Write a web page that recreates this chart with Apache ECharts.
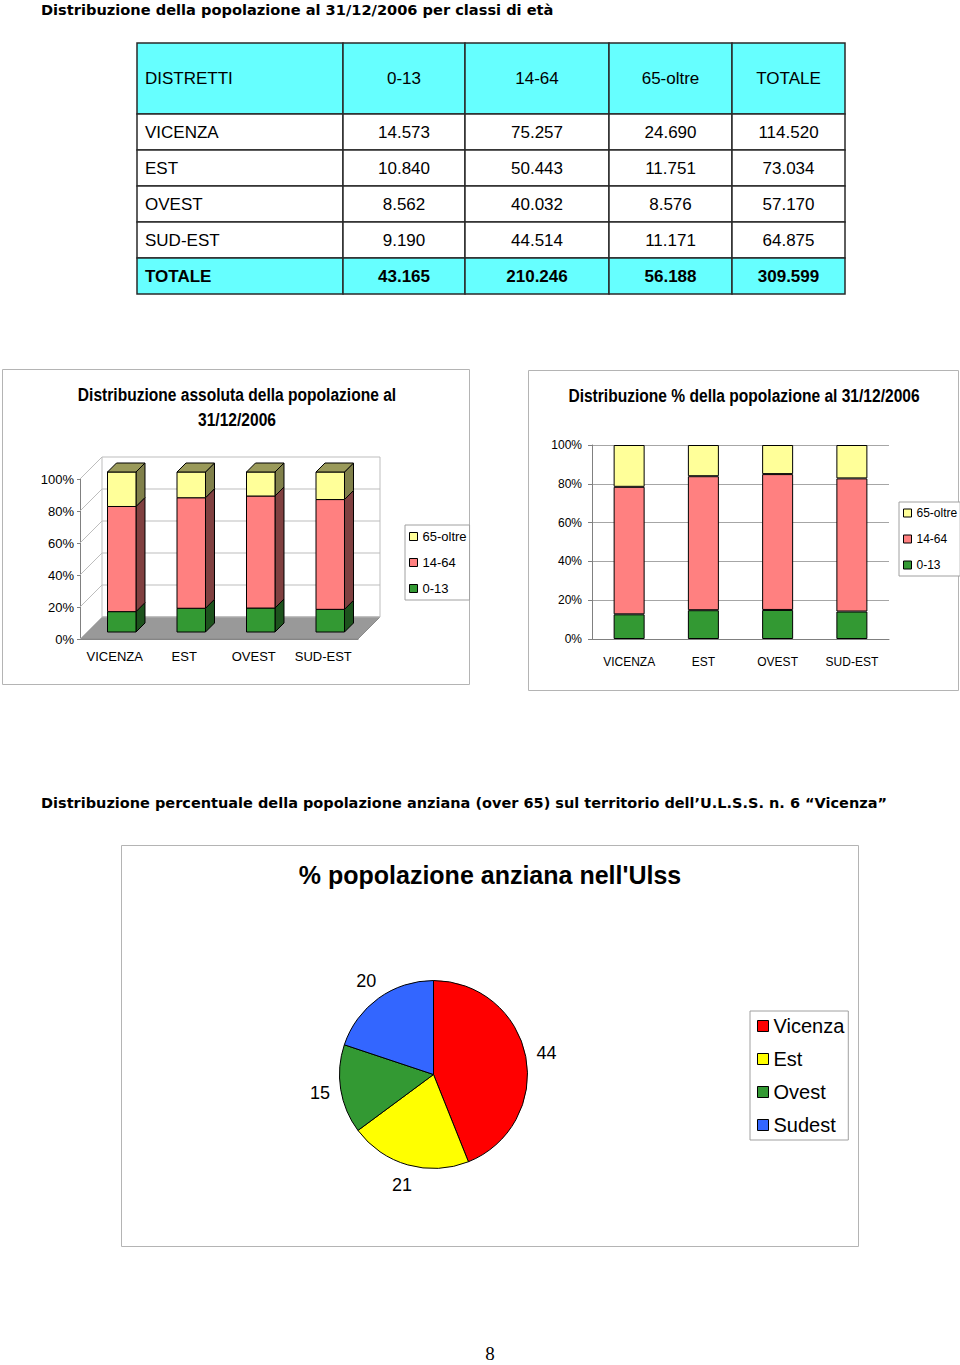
<!DOCTYPE html>
<html>
<head>
<meta charset="utf-8">
<script src="https://cdn.jsdelivr.net/npm/echarts@6/dist/echarts.min.js"></script>
<style>
html,body{margin:0;padding:0;background:#fff;}
#c{width:960px;height:1365px;}
</style>
</head>
<body>
<div id="c"></div>
<script>
// ---------------- DATA ----------------
const districts = ['VICENZA', 'EST', 'OVEST', 'SUD-EST'];
const tableHeader = ['DISTRETTI', '0-13', '14-64', '65-oltre', 'TOTALE'];
const totalLabel = 'TOTALE';
const ageClasses = ['0-13', '14-64', '65-oltre'];
const pop0to13 = [14573, 10840, 8562, 9190];
const pop14to64 = [75257, 50443, 40032, 44514];
const pop65plus = [24690, 11751, 8576, 11171];
const districtTotals = [114520, 73034, 57170, 64875];
const classTotals = [43165, 210246, 56188, 309599];
const percentTicks = [0, 20, 40, 60, 80, 100];
const pieNames = ['Vicenza', 'Est', 'Ovest', 'Sudest'];
const pieValues = pop65plus;

// ---------------- STYLE ----------------
const SANS = '"Liberation Sans",Arial,Helvetica,sans-serif';
const WIDE = '"DejaVu Sans",Verdana,sans-serif';
const classColors = ['#339933', '#FF8080', '#FFFF99'];
const classSide = ['#1d531d', '#804040', '#80804a'];
const classTop = ['#267326', '#bf6060', '#9a9a5a'];
const pieColors = ['#FF0000', '#FFFF00', '#339933', '#3366FF'];

const fmt = n => String(n).replace(/\B(?=(\d{3})+(?!\d))/g, '.');

const byClass = [pop0to13, pop14to64, pop65plus];
const pctByClass = byClass.map(arr => arr.map((v, i) => v / districtTotals[i] * 100));

// ---------------- TABLE (graphic) ----------------
const colX = [137, 343, 465, 609, 732, 845];
const rowY = [43, 114, 150, 186, 222, 258, 294];
const graphic = [];
function cellText(txt, c, r, bold) {
  const x = c === 0 ? colX[0] + 8 : (colX[c] + colX[c + 1]) / 2;
  const y = (rowY[r] + rowY[r + 1]) / 2;
  graphic.push({
    type: 'text', x: x, y: y, z: 10,
    style: {
      text: txt, fill: '#000',
      font: (bold ? 'bold ' : '') + '17px ' + SANS,
      align: c === 0 ? 'left' : 'center', textAlign: c === 0 ? 'left' : 'center',
      verticalAlign: 'middle', textVerticalAlign: 'middle'
    }
  });
}
const tableRows = [tableHeader];
districts.forEach((d, i) => tableRows.push([d, fmt(pop0to13[i]), fmt(pop14to64[i]), fmt(pop65plus[i]), fmt(districtTotals[i])]));
tableRows.push([totalLabel].concat(classTotals.map(fmt)));
tableRows.forEach((row, r) => {
  const shaded = (r === 0 || r === tableRows.length - 1);
  row.forEach((txt, c) => {
    graphic.push({
      type: 'rect', z: 5,
      shape: { x: colX[c], y: rowY[r], width: colX[c + 1] - colX[c], height: rowY[r + 1] - rowY[r] },
      style: { fill: shaded ? '#66FFFF' : '#FFFFFF', stroke: '#2a2a2a', lineWidth: 1.5 }
    });
    cellText(txt, c, r, r === tableRows.length - 1);
  });
});

// ---------------- TEXTS & FRAMES ----------------
function addText(txt, x, y, font, align, sx) {
  graphic.push({
    type: 'text', x: x, y: y, z: 10, scaleX: sx || 1,
    style: { text: txt, fill: '#000', font: font,
      align: align || 'center', textAlign: align || 'center',
      verticalAlign: 'middle', textVerticalAlign: 'middle' }
  });
}
function addFrame(x, y, w, h) {
  graphic.push({ type: 'rect', z: 0, silent: true,
    shape: { x: x, y: y, width: w, height: h },
    style: { fill: 'none', stroke: '#b4b4b4', lineWidth: 1 } });
}
addText('Distribuzione della popolazione al 31/12/2006 per classi di età', 41, 9, 'bold 14.6px ' + WIDE, 'left');
addFrame(2.5, 369.5, 467, 315);
addFrame(528.5, 370.5, 430, 320);
addFrame(121.5, 845.5, 737, 401);
addText('Distribuzione assoluta della popolazione al', 237, 394, 'bold 19px ' + SANS, 'center', 0.82);
addText('31/12/2006', 237, 419, 'bold 19px ' + SANS, 'center', 0.82);
addText('Distribuzione % della popolazione al 31/12/2006', 744, 395, 'bold 19px ' + SANS, 'center', 0.82);
addText('Distribuzione percentuale della popolazione anziana (over 65) sul territorio dell\u2019U.L.S.S. n. 6 \u201cVicenza\u201d', 41, 803, 'bold 14.5px ' + WIDE, 'left');
addText("% popolazione anziana nell'Ulss", 490, 875, 'bold 25px ' + SANS);
addText('8', 490, 1353, '19px "Liberation Serif","Times New Roman",serif');

// ---------------- 3D RENDERERS ----------------
const DEPTH = 22;
function renderWalls(params, api) {
  const cs = params.coordSys;
  const x0 = cs.x, x1 = cs.x + cs.width, yB = cs.y + cs.height, yT = cs.y;
  const ch = [];
  ch.push({ type: 'polygon', shape: { points: [[x0, yB], [x1, yB], [x1 + DEPTH, yB - DEPTH], [x0 + DEPTH, yB - DEPTH]] },
    style: { fill: '#999999', stroke: '#8a8a8a', lineWidth: 1 } });
  percentTicks.forEach(v => {
    const y = api.coord([0, v])[1];
    ch.push({ type: 'line', shape: { x1: x0 + DEPTH, y1: y - DEPTH, x2: x1 + DEPTH, y2: y - DEPTH }, style: { stroke: '#bdbdbd', lineWidth: 1 } });
    ch.push({ type: 'line', shape: { x1: x0, y1: y, x2: x0 + DEPTH, y2: y - DEPTH }, style: { stroke: '#bdbdbd', lineWidth: 1 } });
  });
  ch.push({ type: 'line', shape: { x1: x0 + DEPTH, y1: yT - DEPTH, x2: x0 + DEPTH, y2: yB - DEPTH }, style: { stroke: '#bdbdbd', lineWidth: 1 } });
  ch.push({ type: 'line', shape: { x1: x1 + DEPTH, y1: yT - DEPTH, x2: x1 + DEPTH, y2: yB - DEPTH }, style: { stroke: '#bdbdbd', lineWidth: 1 } });
  return { type: 'group', children: ch };
}
function make3DBar(k) {
  return function (params, api) {
    const cat = api.value(0), lo = api.value(1), hi = api.value(2);
    const pLo = api.coord([cat, lo]), pHi = api.coord([cat, hi]);
    const bw = api.size([1, 0])[0] * 0.41;
    const ox = 7, oy = -7, d = 9;
    const xl = pLo[0] - bw / 2 + ox, xr = xl + bw;
    const yb = pLo[1] + oy, yt = pHi[1] + oy;
    const st = { stroke: '#000', lineWidth: 1, lineJoin: 'round' };
    const ch = [
      { type: 'polygon', shape: { points: [[xr, yb], [xr + d, yb - d], [xr + d, yt - d], [xr, yt]] },
        style: Object.assign({ fill: classSide[k] }, st) },
      { type: 'rect', shape: { x: xl, y: yt, width: bw, height: yb - yt },
        style: Object.assign({ fill: classColors[k] }, st) }
    ];
    if (k === ageClasses.length - 1) {
      ch.push({ type: 'polygon', shape: { points: [[xl, yt], [xl + d, yt - d], [xr + d, yt - d], [xr, yt]] },
        style: Object.assign({ fill: classTop[k] }, st) });
    }
    return { type: 'group', children: ch };
  };
}

// ---------------- SERIES ----------------
const series = [];
series.push({ type: 'custom', name: 'walls', xAxisIndex: 0, yAxisIndex: 0, silent: true, z: 1,
  renderItem: renderWalls, data: [[0, 0]], tooltip: { show: false } });
ageClasses.forEach((name, k) => {
  const data = districts.map((d, i) => {
    let lo = 0;
    for (let j = 0; j < k; j++) lo += pctByClass[j][i];
    return [i, lo, lo + pctByClass[k][i]];
  });
  series.push({ type: 'custom', name: name, xAxisIndex: 0, yAxisIndex: 0, z: 3,
    itemStyle: { color: classColors[k] }, encode: { x: 0, y: [1, 2] },
    renderItem: make3DBar(k), data: data });
});
ageClasses.forEach((name, k) => {
  series.push({ type: 'bar', name: name, xAxisIndex: 1, yAxisIndex: 1, stack: 'pct', barWidth: 31,
    itemStyle: { color: classColors[k], borderColor: '#000', borderWidth: 1 },
    emphasis: { disabled: true }, data: pctByClass[k] });
});
series.push({ type: 'pie', name: 'over65', center: [433.5, 1074.5], radius: 94, startAngle: 90, clockwise: true,
  percentPrecision: 0, label: { show: false }, labelLine: { show: false }, emphasis: { disabled: true },
  itemStyle: { borderColor: '#000', borderWidth: 1 },
  data: pieNames.map((n, i) => ({ name: n, value: pieValues[i], itemStyle: { color: pieColors[i] } })) });
series.push({ type: 'pie', name: 'over65labels', center: [433.5, 1074.5], radius: [100, 124], startAngle: 90, clockwise: true,
  percentPrecision: 0, silent: true, emphasis: { disabled: true }, legendHoverLink: false,
  itemStyle: { color: 'rgba(0,0,0,0)', borderWidth: 0 },
  label: { show: true, position: 'inside', formatter: '{d}', color: '#000', fontSize: 18, fontFamily: SANS },
  labelLine: { show: false },
  data: pieNames.map((n, i) => ({ name: n, value: pieValues[i] })) });

const legendCommon = { orient: 'vertical', selectedMode: false, icon: 'rect',
  backgroundColor: '#fff', borderColor: '#a0a0a0', borderWidth: 1,
  itemStyle: { borderColor: '#000', borderWidth: 1 } };

const option = {
  animation: false,
  backgroundColor: '#fff',
  textStyle: { fontFamily: SANS },
  graphic: graphic,
  grid: [
    { left: 80, top: 479, width: 278, height: 160 },
    { left: 592, top: 445, width: 297, height: 194 }
  ],
  xAxis: [
    { type: 'category', gridIndex: 0, data: districts,
      axisLine: { lineStyle: { color: '#808080' } }, axisTick: { length: 4, lineStyle: { color: '#808080' } },
      axisLabel: { interval: 0, fontSize: 13, color: '#000', margin: 11, fontFamily: SANS } },
    { type: 'category', gridIndex: 1, data: districts,
      axisLine: { lineStyle: { color: '#808080' } }, axisTick: { length: 4, lineStyle: { color: '#808080' } },
      axisLabel: { interval: 0, fontSize: 12, color: '#000', margin: 17, fontFamily: SANS } }
  ],
  yAxis: [
    { type: 'value', gridIndex: 0, min: 0, max: 100, interval: 20,
      axisLine: { show: true, lineStyle: { color: '#808080' } }, axisTick: { show: true, length: 3, lineStyle: { color: '#808080' } },
      splitLine: { show: false },
      axisLabel: { formatter: '{value}%', fontSize: 13, color: '#000', margin: 6, fontFamily: SANS } },
    { type: 'value', gridIndex: 1, min: 0, max: 100, interval: 20,
      axisLine: { show: true, lineStyle: { color: '#808080' } }, axisTick: { show: true, length: 4, lineStyle: { color: '#808080' } },
      splitLine: { show: true, lineStyle: { color: '#a6a6a6' } },
      axisLabel: { formatter: '{value}%', fontSize: 12, color: '#000', margin: 10, fontFamily: SANS } }
  ],
  legend: [
    Object.assign({}, legendCommon, { left: 405, top: 525, data: ageClasses.slice().reverse(),
      itemWidth: 8, itemHeight: 8, itemGap: 13, padding: [5, 3, 5, 4],
      textStyle: { fontSize: 13, color: '#000', fontFamily: SANS } }),
    Object.assign({}, legendCommon, { left: 899, top: 502, data: ageClasses.slice().reverse(),
      itemWidth: 8, itemHeight: 8, itemGap: 14, padding: [5, 3, 5, 4],
      textStyle: { fontSize: 12, color: '#000', fontFamily: SANS } }),
    Object.assign({}, legendCommon, { left: 750, top: 1011, data: pieNames,
      itemWidth: 11, itemHeight: 11, itemGap: 13, padding: [5, 4, 5, 7],
      textStyle: { fontSize: 20, color: '#000', fontFamily: SANS } })
  ],
  series: series
};

const chart = echarts.init(document.getElementById('c'), null, { renderer: 'svg', width: 960, height: 1365 });
chart.setOption(option);
</script>
</body>
</html>
